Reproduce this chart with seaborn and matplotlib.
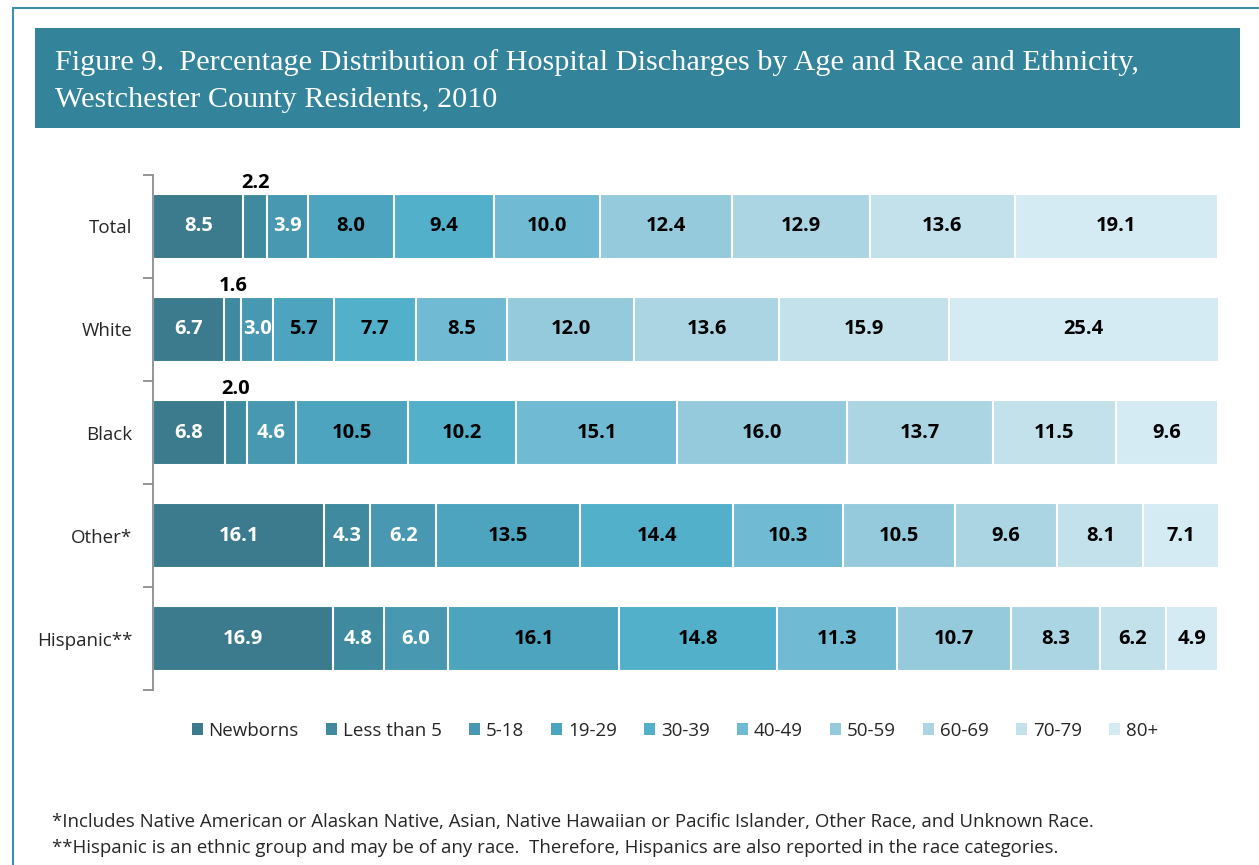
import numpy as np
import pandas as pd
import seaborn as sns
import matplotlib.pyplot as plt
from matplotlib.patches import Rectangle
from matplotlib.lines import Line2D

# data
groups = ["Total", "White", "Black", "Other*", "Hispanic**"]
age_groups = ["Newborns", "Less than 5", "5-18", "19-29", "30-39",
              "40-49", "50-59", "60-69", "70-79", "80+"]
newborns = [8.5, 6.7, 6.8, 16.1, 16.9]
less_than_5 = [2.2, 1.6, 2.0, 4.3, 4.8]
age_5_18 = [3.9, 3.0, 4.6, 6.2, 6.0]
age_19_29 = [8.0, 5.7, 10.5, 13.5, 16.1]
age_30_39 = [9.4, 7.7, 10.2, 14.4, 14.8]
age_40_49 = [10.0, 8.5, 15.1, 10.3, 11.3]
age_50_59 = [12.4, 12.0, 16.0, 10.5, 10.7]
age_60_69 = [12.9, 13.6, 13.7, 9.6, 8.3]
age_70_79 = [13.6, 15.9, 11.5, 8.1, 6.2]
age_80_plus = [19.1, 25.4, 9.6, 7.1, 4.9]

colors = ["#3b7b8d", "#3f8a9e", "#4898b2", "#4da4bf", "#52b0cb",
          "#70bbd3", "#95cadc", "#acd5e4", "#c3e1eb", "#d5ebf3"]
white_text = {"Newborns", "Less than 5", "5-18"}

df = pd.DataFrame(
    np.array([newborns, less_than_5, age_5_18, age_19_29, age_30_39,
              age_40_49, age_50_59, age_60_69, age_70_79, age_80_plus]).T,
    index=groups, columns=age_groups)
cum = df.cumsum(axis=1)

sns.set_theme(style="white")
plt.rcParams["font.family"] = ["Open Sans", "DejaVu Sans"]

fig = plt.figure(figsize=(12.59, 8.65), dpi=100)
ax = fig.add_axes([0.1215, 0.2023, 0.8459, 0.5954])

# outer frame and title banner
fig.add_artist(Line2D([0.0105, 0.0105], [0, 0.991], transform=fig.transFigure,
                      color="#3f8fa8", lw=1.5))
fig.add_artist(Line2D([0.0105, 1.0], [0.991, 0.991], transform=fig.transFigure,
                      color="#3f8fa8", lw=1.5))
fig.add_artist(Rectangle((0.0278, 0.852), 0.957, 0.116, transform=fig.transFigure,
                         facecolor="#33849a", edgecolor="none"))
fig.text(0.044, 0.928, "Figure 9.  Percentage Distribution of Hospital Discharges by Age and Race and Ethnicity,",
         color="white", fontsize=21.8, family=["Liberation Serif"], va="center")
fig.text(0.044, 0.884, "Westchester County Residents, 2010",
         color="white", fontsize=21.8, family=["Liberation Serif"], va="center")

# stacked bars: draw cumulative totals from the widest down
for i in range(len(age_groups) - 1, -1, -1):
    col = age_groups[i]
    sns.barplot(x=cum[col].values, y=groups, orient="h", color=colors[i],
                width=0.64, edgecolor="white", linewidth=1.5, saturation=1,
                ax=ax)

for r, g in enumerate(groups):
    for i, col in enumerate(age_groups):
        v = df.loc[g, col]
        xc = cum.loc[g, col] - v / 2
        tc = "white" if col in white_text else "black"
        if v < 2.5:
            ax.text(xc, r - 0.33, f"{v:.1f}", ha="center", va="bottom",
                    fontsize=14.5, fontweight="bold", color="black")
        else:
            ax.text(xc, r, f"{v:.1f}", ha="center", va="center",
                    fontsize=14.5, fontweight="bold", color=tc)

ax.set_xlim(0, 100)
ax.set_ylim(4.5, -0.5)
ax.set_xticks([])
ax.set_xlabel("")
ax.set_ylabel("")
ax.set_yticks(range(len(groups)))
ax.set_yticklabels(groups, fontsize=13.5)
ax.set_yticks(np.arange(-0.5, 5.0, 1.0), minor=True)
ax.tick_params(axis="y", which="major", length=0, pad=15)
ax.tick_params(axis="y", which="minor", length=7, direction="out",
               color="#8c8c8c", width=1.3, left=True)
for s in ["top", "right", "bottom"]:
    ax.spines[s].set_visible(False)
ax.spines["left"].set_color("#8c8c8c")
ax.spines["left"].set_linewidth(1.3)

handles = [Rectangle((0, 0), 1, 1, facecolor=c, edgecolor="none") for c in colors]
fig.legend(handles, age_groups, loc="center", bbox_to_anchor=(0.536, 0.155),
           ncol=10, frameon=False, fontsize=13.5, handlelength=0.6,
           handleheight=0.6, handletextpad=0.3, columnspacing=1.45)

fig.text(0.041, 0.0497, "*Includes Native American or Alaskan Native, Asian, Native Hawaiian or Pacific Islander, Other Race, and Unknown Race.",
         fontsize=13.4, va="center")
fig.text(0.041, 0.0197, "**Hispanic is an ethnic group and may be of any race.  Therefore, Hispanics are also reported in the race categories.",
         fontsize=13.4, va="center")

fig.savefig("out.png", dpi=100)
